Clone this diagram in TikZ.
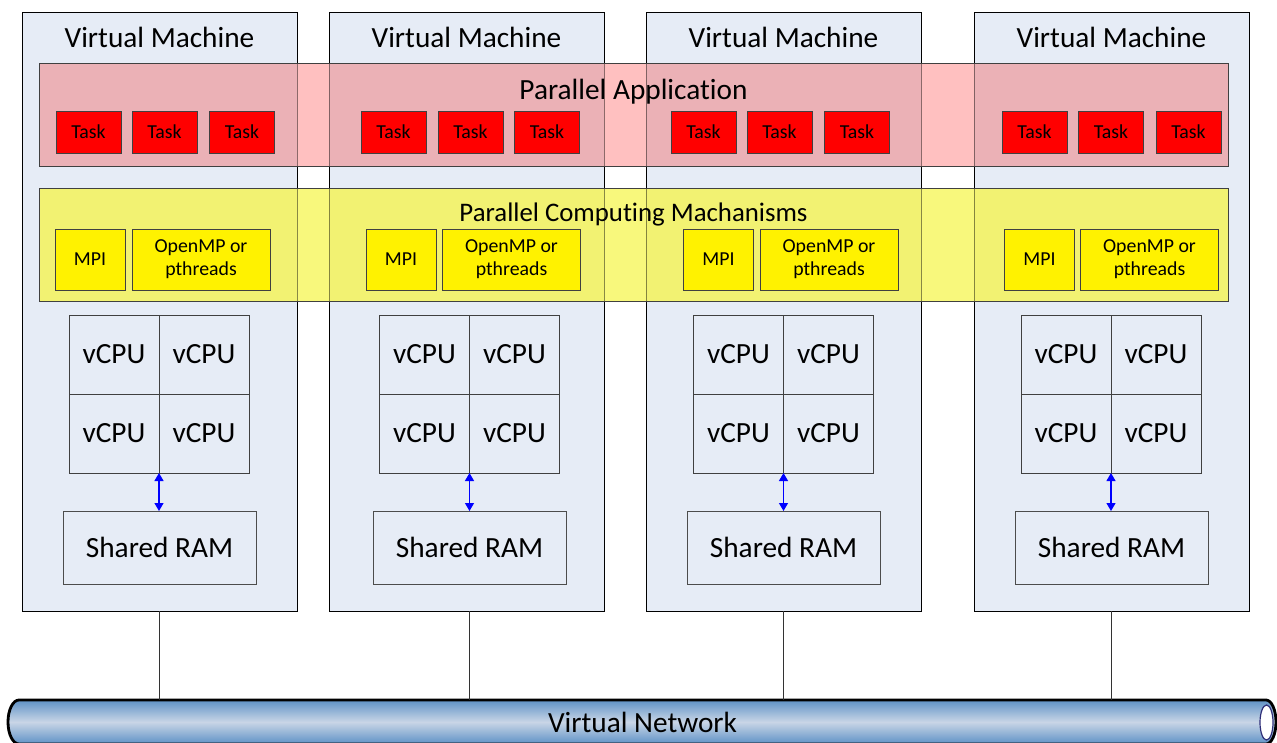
\documentclass[tikz,border=0pt]{standalone}
\usepackage{fontspec}
\setmainfont{Carlito}[Ligatures=NoCommon]
\usetikzlibrary{arrows.meta}
\definecolor{vmfill}{HTML}{E6ECF6}
\definecolor{pinkout}{HTML}{FFC0C0}
\definecolor{pinkin}{HTML}{EBB1B6}
\definecolor{yelout}{HTML}{F8F87C}
\definecolor{yelin}{HTML}{F2F272}
\definecolor{netdark}{HTML}{5E92C6}
\definecolor{netlight}{HTML}{C9D5E6}
\definecolor{netrim}{HTML}{2E2E78}
\begin{document}
\begin{tikzpicture}[x=1pt,y=-1pt,
  every node/.style={inner sep=0pt, outer sep=0pt},
  vmbox/.style={draw=black, line width=0.9pt, fill=vmfill, minimum width=275, minimum height=599},
  big/.style={font=\fontsize{29.3}{34}\selectfont},
  mid/.style={font=\fontsize{26.8}{31}\selectfont},
  small/.style={font=\fontsize{19.8}{23}\selectfont},
  bandline/.style={draw=black!75, line width=0.8pt},
  fadeline/.style={draw=black, opacity=0.45, line width=0.9pt},
  taskbox/.style={draw=black!75, line width=0.8pt, fill=red, minimum width=65, minimum height=42, small},
  mpibox/.style={draw=black!75, line width=0.8pt, fill=yellow, minimum width=70, minimum height=61, small},
  ompbox/.style={mpibox, minimum width=138, align=center},
  cpucell/.style={draw=black!75, line width=0.8pt, minimum width=90, minimum height=79, big},
  rambox/.style={draw=black!70, line width=0.8pt, minimum width=193, minimum height=73, big},
  memlink/.style={blue, line width=1.2pt, {Triangle[length=8pt,width=9pt]}-{Triangle[length=8pt,width=9pt]}},
  netlink/.style={black!80, line width=1.8pt},
]
\useasboundingbox (0,0) rectangle (1277,742);

% Virtual machines
\node[vmbox] (vm1) at (159.5,311.5) {};
\node[vmbox] (vm2) at (466.5,311.5) {};
\node[vmbox] (vm3) at (783.5,311.5) {};
\node[vmbox] (vm4) at (1111.5,311.5) {};
\node[big, anchor=base] (t1) at (159.5,47.7) {Virtual Machine};
\node[big, anchor=base] (t2) at (466.5,47.7) {Virtual Machine};
\node[big, anchor=base] (t3) at (783.5,47.7) {Virtual Machine};
\node[big, anchor=base] (t4) at (1111.5,47.7) {Virtual Machine};

% Parallel application band
\node[fill=pinkout, minimum width=1189, minimum height=103] (app) at (633.5,114.5) {};
\fill[pinkin] (app.north west) rectangle (vm1.east |- app.south);
\fill[pinkin] (vm2.west |- app.north) rectangle (vm2.east |- app.south);
\fill[pinkin] (vm3.west |- app.north) rectangle (vm3.east |- app.south);
\fill[pinkin] (vm4.west |- app.north) rectangle (app.south east);
\node[big, anchor=base] (lapp) at (633.5,99) {Parallel Application};
\draw[fadeline] (vm1.east |- app.north) -- (vm1.east |- app.south);
\draw[fadeline] (vm2.west |- app.north) -- (vm2.west |- app.south);
\draw[fadeline] (vm2.east |- app.north) -- (vm2.east |- app.south);
\draw[fadeline] (vm3.west |- app.north) -- (vm3.west |- app.south);
\draw[fadeline] (vm3.east |- app.north) -- (vm3.east |- app.south);
\draw[fadeline] (vm4.west |- app.north) -- (vm4.west |- app.south);
\draw[bandline] (app.north west) rectangle (app.south east);

% Parallel computing mechanisms band
\node[fill=yelout, minimum width=1189, minimum height=113] (pcm) at (633.5,244.5) {};
\fill[yelin] (pcm.north west) rectangle (vm1.east |- pcm.south);
\fill[yelin] (vm2.west |- pcm.north) rectangle (vm2.east |- pcm.south);
\fill[yelin] (vm3.west |- pcm.north) rectangle (vm3.east |- pcm.south);
\fill[yelin] (vm4.west |- pcm.north) rectangle (pcm.south east);
\node[mid, anchor=base] (lpcm) at (633.5,221) {Parallel Computing Machanisms};
\draw[fadeline] (vm1.east |- pcm.north) -- (vm1.east |- pcm.south);
\draw[fadeline] (vm2.west |- pcm.north) -- (vm2.west |- pcm.south);
\draw[fadeline] (vm2.east |- pcm.north) -- (vm2.east |- pcm.south);
\draw[fadeline] (vm3.west |- pcm.north) -- (vm3.west |- pcm.south);
\draw[fadeline] (vm3.east |- pcm.north) -- (vm3.east |- pcm.south);
\draw[fadeline] (vm4.west |- pcm.north) -- (vm4.west |- pcm.south);
\draw[bandline] (pcm.north west) rectangle (pcm.south east);

% Tasks
\node[taskbox] (k11) at (88.5,132) {Task};
\node[taskbox] (k12) at (164.5,132) {Task};
\node[taskbox] (k13) at (242,132) {Task};
\node[taskbox] (k21) at (393.5,132) {Task};
\node[taskbox] (k22) at (470.5,132) {Task};
\node[taskbox] (k23) at (547,132) {Task};
\node[taskbox] (k31) at (703.5,132) {Task};
\node[taskbox] (k32) at (779.5,132) {Task};
\node[taskbox] (k33) at (857,132) {Task};
\node[taskbox] (k41) at (1034.5,132) {Task};
\node[taskbox] (k42) at (1111,132) {Task};
\node[taskbox] (k43) at (1188.5,132) {Task};

% MPI / OpenMP
\node[mpibox] (m1) at (90,259.5) {MPI};
\node[ompbox] (o1) at (201,259.5) {OpenMP or\\pthreads};
\node[mpibox] (m2) at (401,259.5) {MPI};
\node[ompbox] (o2) at (511.5,259.5) {OpenMP or\\pthreads};
\node[mpibox] (m3) at (718.5,259.5) {MPI};
\node[ompbox] (o3) at (829,259.5) {OpenMP or\\pthreads};
\node[mpibox] (m4) at (1039.5,259.5) {MPI};
\node[ompbox] (o4) at (1149.5,259.5) {OpenMP or\\pthreads};

% vCPU grids
\foreach \k/\gx in {1/159, 2/469.5, 3/783.5, 4/1111} {
  \node[cpucell] (c\k1) at (\gx-45,354.5) {vCPU};
  \node[cpucell] (c\k2) at (\gx+45,354.5) {vCPU};
  \node[cpucell] (c\k3) at (\gx-45,433.5) {vCPU};
  \node[cpucell] (c\k4) at (\gx+45,433.5) {vCPU};
}

% Shared RAM
\node[rambox] (ram1) at (159.5,547.5) {Shared RAM};
\node[rambox] (ram2) at (469.5,547.5) {Shared RAM};
\node[rambox] (ram3) at (783.5,547.5) {Shared RAM};
\node[rambox] (ram4) at (1111.5,547.5) {Shared RAM};

\foreach \k in {1,2,3,4} {
  \draw[memlink] (c\k3.south east) -- (c\k3.south east |- ram\k.north);
}

% Virtual network cylinder
\begin{scope}
\clip (0,0) rectangle (1277,742);
\path[draw=black, line width=2.8pt, top color=netdark, bottom color=netdark, middle color=netlight]
  (19,700) -- (1266,700)
  .. controls (1271.5,700) and (1276,709.85) .. (1276,722)
  .. controls (1276,734.15) and (1271.5,744) .. (1266,744)
  -- (19,744)
  .. controls (12.9,744) and (8,734.15) .. (8,722)
  .. controls (8,709.85) and (12.9,700) .. (19,700) -- cycle;
\draw[netrim, fill=white, line width=1.2pt] (1266.5,722.5) ellipse [x radius=6.5, y radius=17.5];
\end{scope}
\node[big, minimum width=1269, minimum height=44] (net) at (642.5,722) {Virtual Network};

\foreach \k in {1,2,3,4} {
  \draw[netlink] (vm\k.south -| ram\k.north) -- (net.north -| ram\k.north);
}
\end{tikzpicture}
\end{document}
